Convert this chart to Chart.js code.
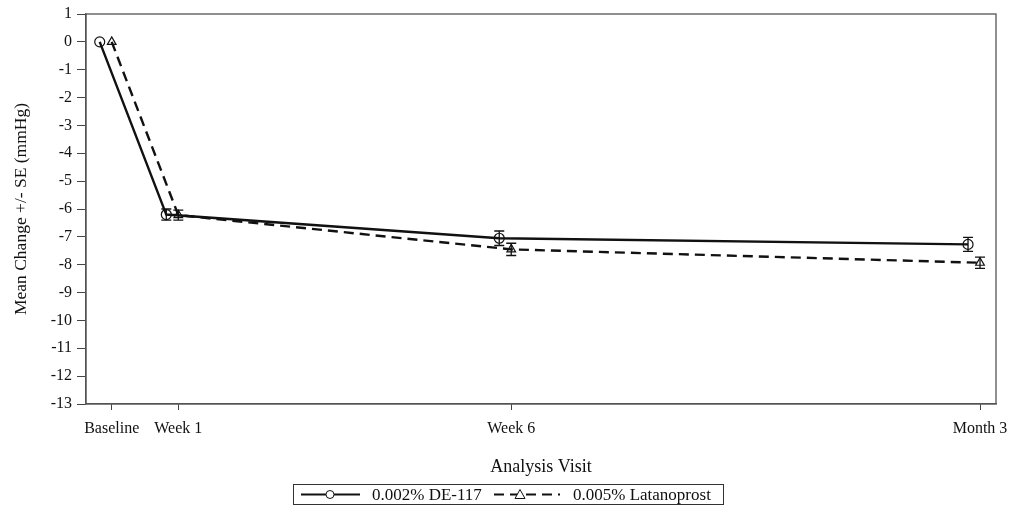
<!DOCTYPE html>
<html>
<head>
<meta charset="utf-8">
<script src="https://cdn.jsdelivr.net/npm/chart.js@4"></script>
<style>
  html, body { margin: 0; padding: 0; background: #fff; }
  .chart-box { width: 1013px; height: 506px; }
</style>
</head>
<body>
<div class="chart-box"><canvas id="ioChart"></canvas></div>
<script>
// visits in weeks from baseline
const visitLabels = ['Baseline', 'Week 1', 'Week 6', 'Month 3'];
const visitWeeks = [0, 1, 6, 13.04];

const deMean = [0, -6.2, -7.05, -7.27];
const deSE = [0, 0.2, 0.26, 0.25];
const latMean = [0, -6.22, -7.45, -7.93];
const latSE = [0, 0.18, 0.22, 0.2];

const seriesNames = ['0.002% DE-117', '0.005% Latanoprost'];
const yTicks = [1, 0, -1, -2, -3, -4, -5, -6, -7, -8, -9, -10, -11, -12, -13];

// DE-117 drawn slightly to the left of each visit
const dodge = -0.18;

const serif = 'Liberation Serif, Times New Roman, serif';

function points(xs, ys, shift, se){
    return xs.map((x, i) => ({ x: x + shift, y: ys[i], se: se[i] }));
}

const errorBars = {
    id: 'errorBars',
    afterDatasetsDraw(chart){
        const ctx = chart.ctx;
        const yScale = chart.scales.y;
        ctx.save();
        ctx.strokeStyle = '#111';
        ctx.lineWidth = 1.3;
        ctx.setLineDash([]);
        chart.data.datasets.forEach((ds, di) => {
            const meta = chart.getDatasetMeta(di);
            meta.data.forEach((pt, i) => {
                const p = ds.data[i];
                if (!p.se) return;
                const top = yScale.getPixelForValue(p.y + p.se);
                const bot = yScale.getPixelForValue(p.y - p.se);
                ctx.beginPath();
                ctx.moveTo(pt.x, top); ctx.lineTo(pt.x, bot);
                ctx.moveTo(pt.x - 5, top); ctx.lineTo(pt.x + 5, top);
                ctx.moveTo(pt.x - 5, bot); ctx.lineTo(pt.x + 5, bot);
                ctx.stroke();
            });
        });
        ctx.restore();
    }
};

const frameAndLegend = {
    id: 'frameAndLegend',
    afterDraw(chart){
        const ctx = chart.ctx;
        const a = chart.chartArea;
        ctx.save();
        ctx.strokeStyle = '#555';
        ctx.lineWidth = 1.3;
        ctx.setLineDash([]);
        ctx.strokeRect(a.left, a.top, a.right - a.left, a.bottom - a.top);

        // legend box
        const bx = 293, by = 484, bw = 430, bh = 20;
        ctx.strokeStyle = '#333';
        ctx.lineWidth = 1;
        ctx.strokeRect(bx + 0.5, by + 0.5, bw, bh);
        const cy = by + bh / 2 + 0.5;

        ctx.strokeStyle = '#111';
        ctx.lineWidth = 2;
        ctx.beginPath(); ctx.moveTo(301, cy); ctx.lineTo(360, cy); ctx.stroke();
        ctx.lineWidth = 1;
        ctx.fillStyle = '#fff';
        ctx.beginPath(); ctx.arc(330, cy, 4, 0, Math.PI * 2); ctx.fill(); ctx.stroke();

        ctx.lineWidth = 2;
        ctx.setLineDash([10, 6]);
        ctx.beginPath(); ctx.moveTo(494, cy); ctx.lineTo(560, cy); ctx.stroke();
        ctx.setLineDash([]);
        ctx.lineWidth = 1;
        ctx.beginPath();
        ctx.moveTo(520, cy - 5); ctx.lineTo(525, cy + 4); ctx.lineTo(515, cy + 4); ctx.closePath();
        ctx.fill(); ctx.stroke();

        ctx.fillStyle = '#111';
        ctx.font = '17px ' + serif;
        ctx.textBaseline = 'middle';
        ctx.textAlign = 'left';
        ctx.fillText(seriesNames[0], 372, cy + 1);
        ctx.fillText(seriesNames[1], 573, cy + 1);
        ctx.restore();
    }
};

const ioChart = new Chart(document.getElementById('ioChart'), {
    type: 'scatter',
    data: {
        datasets: [
            {
                label: seriesNames[0],
                data: points(visitWeeks, deMean, dodge, deSE),
                showLine: true,
                borderColor: '#111',
                borderWidth: 2.4,
                pointStyle: 'circle',
                pointRadius: 5,
                pointBorderWidth: 1.2,
                pointBackgroundColor: 'rgba(255,255,255,0)',
                pointBorderColor: '#111',
                order: 1
            },
            {
                label: seriesNames[1],
                data: points(visitWeeks, latMean, 0, latSE),
                showLine: true,
                borderColor: '#111',
                borderWidth: 2.4,
                borderDash: [10, 6],
                pointStyle: 'triangle',
                pointRadius: 5,
                pointBorderWidth: 1.2,
                pointBackgroundColor: 'rgba(255,255,255,0)',
                pointBorderColor: '#111',
                order: 2
            }
        ]
    },
    options: {
        responsive: true,
        maintainAspectRatio: false,
        animation: false,
        layout: { padding: { left: 0, right: 17, top: 14, bottom: 26 } },
        plugins: {
            legend: { display: false },
            tooltip: { enabled: false }
        },
        scales: {
            x: {
                type: 'linear',
                min: -0.386,
                max: 13.28,
                afterBuildTicks(scale){
                    scale.ticks = visitWeeks.map(v => ({ value: v }));
                },
                afterFit(scale){
                    scale.height = 76;
                    scale.paddingLeft = 0;
                    scale.paddingRight = 0;
                },
                ticks: {
                    color: '#111',
                    font: { family: serif, size: 16 },
                    padding: 9,
                    maxRotation: 0,
                    autoSkip: false,
                    callback(value){
                        const i = visitWeeks.indexOf(value);
                        return i >= 0 ? visitLabels[i] : '';
                    }
                },
                grid: { drawOnChartArea: false, drawTicks: true, tickLength: 6, color: '#444' },
                border: { color: '#555', width: 1.3 },
                title: {
                    display: true,
                    text: 'Analysis Visit',
                    color: '#111',
                    font: { family: serif, size: 18 },
                    padding: { top: 4, bottom: 2 }
                }
            },
            y: {
                min: -13,
                max: 1,
                afterBuildTicks(scale){
                    scale.ticks = yTicks.map(v => ({ value: v }));
                },
                afterFit(scale){
                    scale.width = 86;
                    scale.paddingTop = 0;
                    scale.paddingBottom = 0;
                },
                ticks: {
                    color: '#111',
                    font: { family: serif, size: 16 },
                    padding: 5
                },
                grid: { drawOnChartArea: false, drawTicks: true, tickLength: 9, color: '#444' },
                border: { color: '#555', width: 1.3 },
                title: {
                    display: true,
                    text: 'Mean Change +/- SE (mmHg)',
                    color: '#111',
                    font: { family: serif, size: 17.5 },
                    padding: { top: 11, bottom: 4 }
                }
            }
        }
    },
    plugins: [errorBars, frameAndLegend]
});
</script>
</body>
</html>
